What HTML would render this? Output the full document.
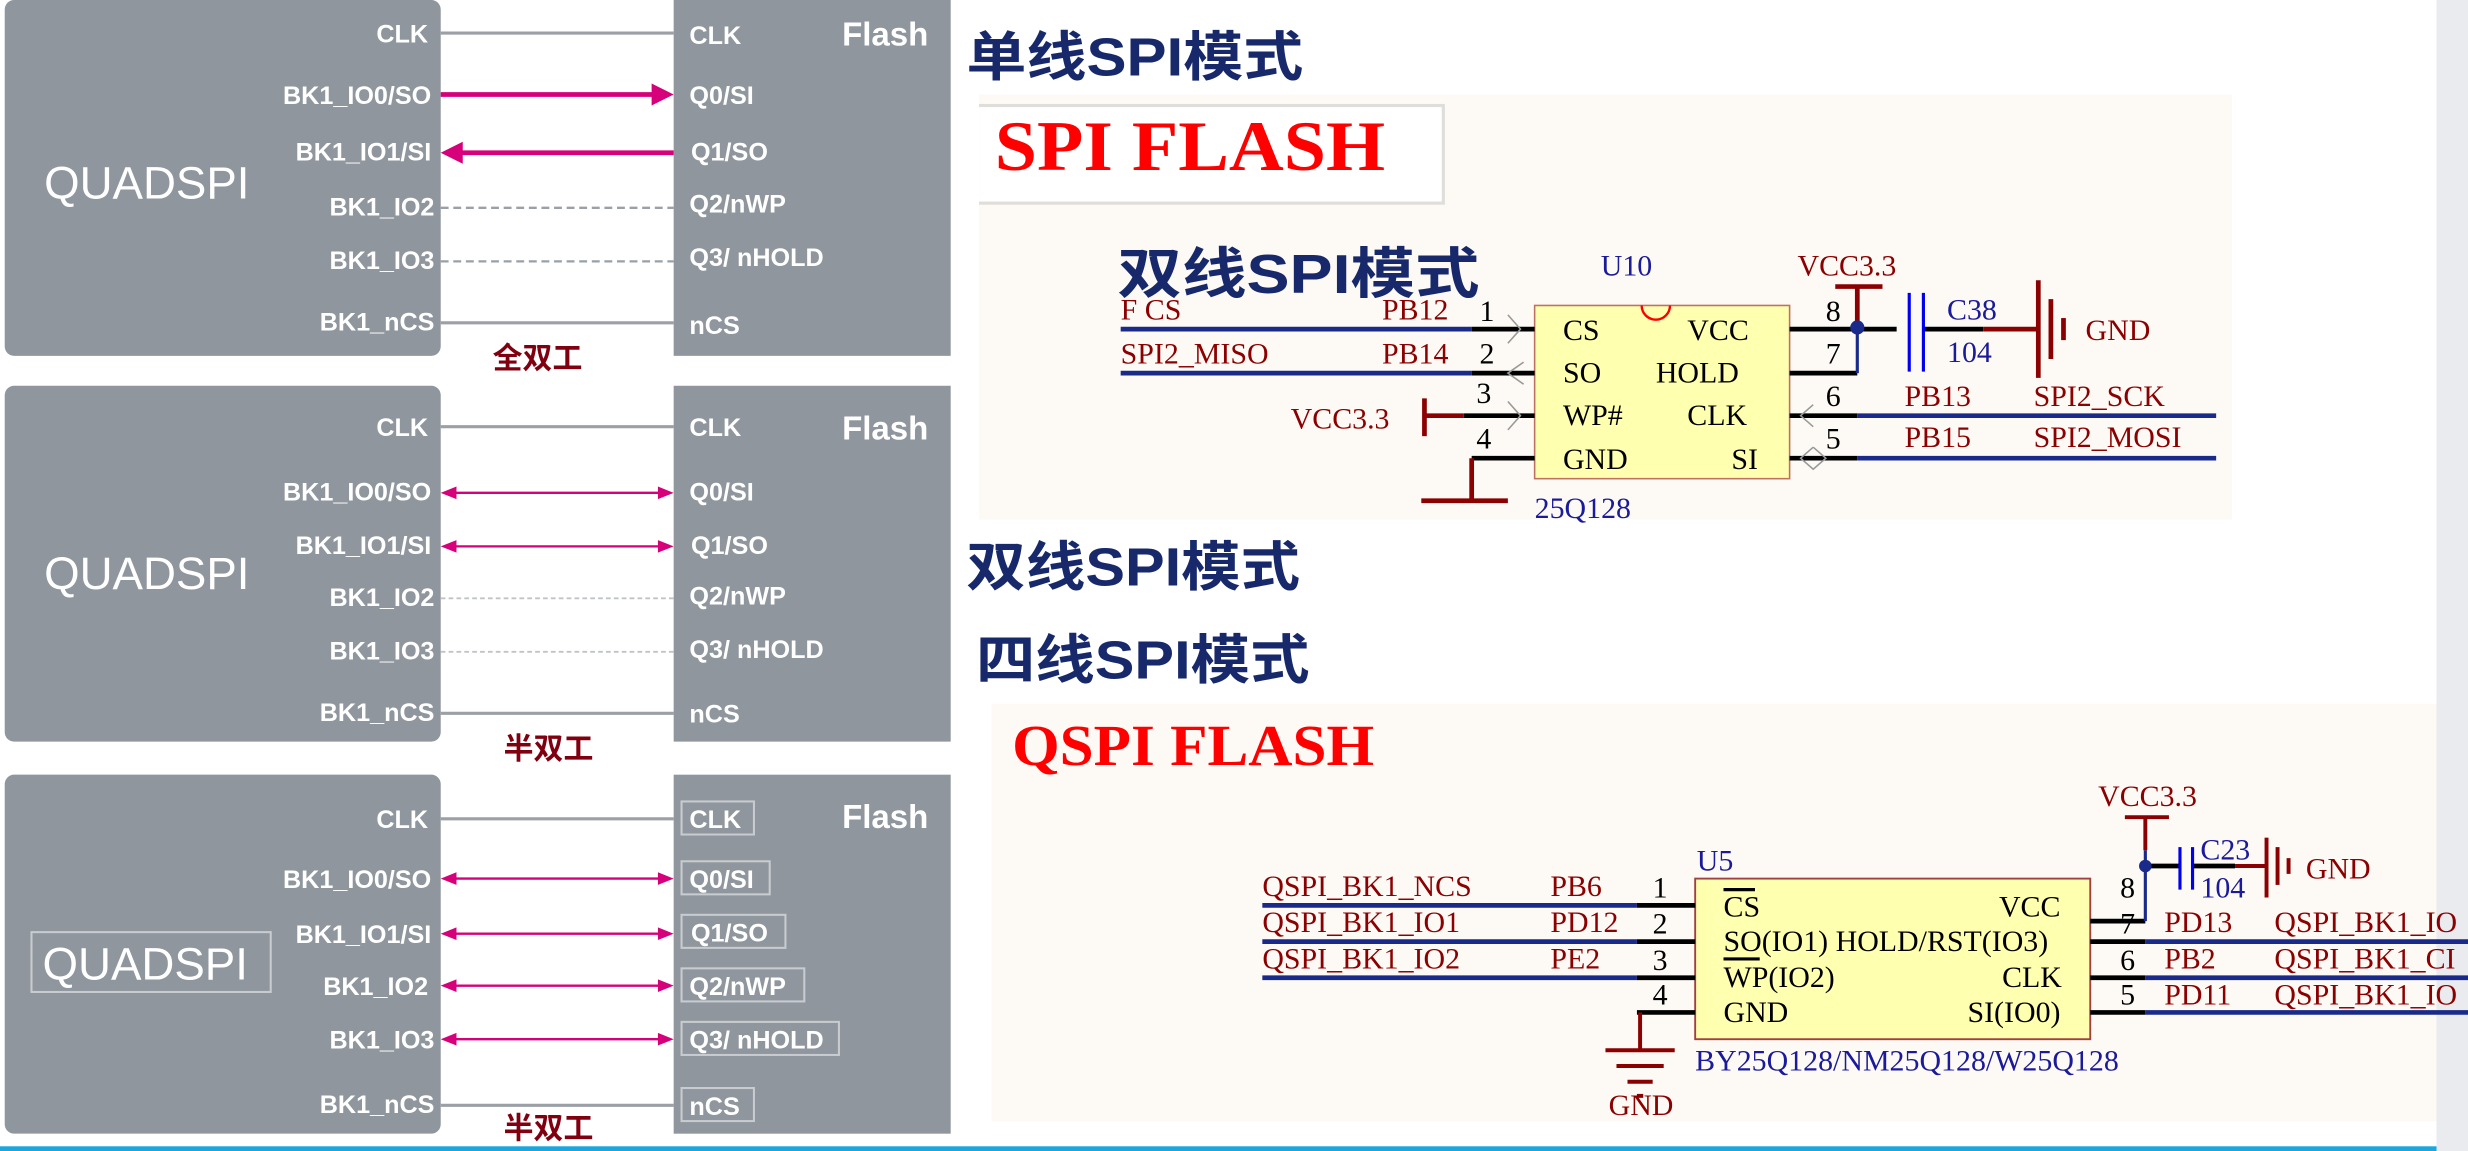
<!DOCTYPE html>
<html><head><meta charset="utf-8"><style>
html,body{margin:0;padding:0;background:#fff;}
svg{display:block;}
.w{font-family:"Liberation Sans","Noto Sans CJK SC",sans-serif;fill:#fff;font-weight:bold;font-size:16px;}
.s{font-family:"Liberation Serif",serif;font-size:19px;}
.r{fill:#8b0000;} .b{fill:#1a1a9a;} .k{fill:#000;}
.t{font-family:"Liberation Sans","Noto Sans CJK SC",sans-serif;font-weight:bold;fill:#17296b;font-size:34px;}
.h{font-family:"Liberation Sans","Noto Sans CJK SC",sans-serif;font-weight:bold;fill:#800010;font-size:19px;}
</style></head><body>
<svg width="2468" height="1151" viewBox="0 0 1568 731" preserveAspectRatio="none" xmlns="http://www.w3.org/2000/svg">
<rect x="1548" y="0" width="20" height="731" fill="#e9ebee"/>
<rect x="0" y="728" width="1548" height="3" fill="#1aa7e0"/>

<!-- Panel 1 -->
<rect x="3" y="0" width="277" height="226" rx="6" fill="#8f969d"/>
<rect x="428" y="0" width="176" height="226" fill="#8f969d"/>
<g class="w" text-anchor="end">
<text x="272" y="27">CLK</text><text x="274" y="66">BK1_IO0/SO</text><text x="274" y="102">BK1_IO1/SI</text>
<text x="276" y="137">BK1_IO2</text><text x="276" y="171">BK1_IO3</text><text x="276" y="210">BK1_nCS</text></g>
<g class="w"><text x="438" y="28">CLK</text><text x="438" y="66">Q0/SI</text><text x="439" y="102">Q1/SO</text>
<text x="438" y="135">Q2/nWP</text><text x="438" y="169">Q3/ nHOLD</text><text x="438" y="212">nCS</text>
<text x="535" y="29" font-size="21">Flash</text>
<text x="28" y="126" font-size="29" font-weight="normal">QUADSPI</text></g>
<line x1="280" y1="21" x2="428" y2="21" stroke="#9aa0a6" stroke-width="2"/>
<line x1="280" y1="205" x2="428" y2="205" stroke="#9aa0a6" stroke-width="2"/>
<line x1="280" y1="60" x2="416" y2="60" stroke="#d6007a" stroke-width="3"/>
<polygon points="428,60 414,53 414,67" fill="#d6007a"/>
<line x1="292" y1="97" x2="428" y2="97" stroke="#d6007a" stroke-width="3"/>
<polygon points="280,97 294,90 294,104" fill="#d6007a"/>
<line x1="280" y1="132" x2="428" y2="132" stroke="#9aa0a6" stroke-width="1.5" stroke-dasharray="5,3"/>
<line x1="280" y1="166" x2="428" y2="166" stroke="#9aa0a6" stroke-width="1.5" stroke-dasharray="5,3"/>
<text class="h" x="313" y="234">全双工</text>

<!-- Panel 2 -->
<rect x="3" y="245" width="277" height="226" rx="6" fill="#8f969d"/>
<rect x="428" y="245" width="176" height="226" fill="#8f969d"/>
<g class="w" text-anchor="end">
<text x="272" y="277">CLK</text><text x="274" y="318">BK1_IO0/SO</text><text x="274" y="352">BK1_IO1/SI</text>
<text x="276" y="385">BK1_IO2</text><text x="276" y="419">BK1_IO3</text><text x="276" y="458">BK1_nCS</text></g>
<g class="w"><text x="438" y="277">CLK</text><text x="438" y="318">Q0/SI</text><text x="439" y="352">Q1/SO</text>
<text x="438" y="384">Q2/nWP</text><text x="438" y="418">Q3/ nHOLD</text><text x="438" y="459">nCS</text>
<text x="535" y="279" font-size="21">Flash</text>
<text x="28" y="374" font-size="29" font-weight="normal">QUADSPI</text></g>
<line x1="280" y1="271" x2="428" y2="271" stroke="#9aa0a6" stroke-width="2"/>
<line x1="280" y1="453" x2="428" y2="453" stroke="#9aa0a6" stroke-width="2"/>
<g stroke="#d6007a" stroke-width="1.5"><line x1="285" y1="313" x2="423" y2="313"/><line x1="285" y1="347" x2="423" y2="347"/></g>
<g fill="#d6007a"><polygon points="280,313 290,309 290,317"/><polygon points="428,313 418,309 418,317"/>
<polygon points="280,347 290,343 290,351"/><polygon points="428,347 418,343 418,351"/></g>
<line x1="280" y1="380" x2="428" y2="380" stroke="#c0c4c8" stroke-width="1.2" stroke-dasharray="3,2"/>
<line x1="280" y1="414" x2="428" y2="414" stroke="#c0c4c8" stroke-width="1.2" stroke-dasharray="3,2"/>
<text class="h" x="320" y="482">半双工</text>

<!-- Panel 3 -->
<rect x="3" y="492" width="277" height="228" rx="6" fill="#8f969d"/>
<rect x="428" y="492" width="176" height="228" fill="#8f969d"/>
<g class="w" text-anchor="end">
<text x="272" y="526">CLK</text><text x="274" y="564">BK1_IO0/SO</text><text x="274" y="599">BK1_IO1/SI</text>
<text x="272" y="632">BK1_IO2</text><text x="276" y="666">BK1_IO3</text><text x="276" y="707">BK1_nCS</text></g>
<g fill="none" stroke="#c8ccd0" stroke-width="1.3">
<rect x="433" y="509" width="46" height="21"/><rect x="433" y="547" width="56" height="21"/><rect x="433" y="581" width="66" height="21"/>
<rect x="433" y="615" width="78" height="21"/><rect x="433" y="649" width="100" height="21"/><rect x="433" y="691" width="46" height="21"/>
<rect x="20" y="592" width="152" height="38"/></g>
<g class="w"><text x="438" y="526">CLK</text><text x="438" y="564">Q0/SI</text><text x="439" y="598">Q1/SO</text>
<text x="438" y="632">Q2/nWP</text><text x="438" y="666">Q3/ nHOLD</text><text x="438" y="708">nCS</text>
<text x="535" y="526" font-size="21">Flash</text>
<text x="27" y="622" font-size="29" font-weight="normal">QUADSPI</text></g>
<line x1="280" y1="520" x2="428" y2="520" stroke="#9aa0a6" stroke-width="2"/>
<line x1="280" y1="702" x2="428" y2="702" stroke="#9aa0a6" stroke-width="2"/>
<g stroke="#d6007a" stroke-width="1.5"><line x1="285" y1="558" x2="423" y2="558"/><line x1="285" y1="593" x2="423" y2="593"/>
<line x1="285" y1="626" x2="423" y2="626"/><line x1="285" y1="660" x2="423" y2="660"/></g>
<g fill="#d6007a"><polygon points="280,558 290,554 290,562"/><polygon points="428,558 418,554 418,562"/>
<polygon points="280,593 290,589 290,597"/><polygon points="428,593 418,589 418,597"/>
<polygon points="280,626 290,622 290,630"/><polygon points="428,626 418,622 418,630"/>
<polygon points="280,660 290,656 290,664"/><polygon points="428,660 418,656 418,664"/></g>
<text class="h" x="320" y="723">半双工</text>

<!-- Titles -->
<text class="t" x="614" y="48" textLength="214" lengthAdjust="spacingAndGlyphs">单线SPI模式</text>
<text class="t" x="614" y="372" textLength="212" lengthAdjust="spacingAndGlyphs">双线SPI模式</text>
<text class="t" x="620" y="431" textLength="212" lengthAdjust="spacingAndGlyphs">四线SPI模式</text>

<!-- Schematic 1 -->
<rect x="622" y="60" width="796" height="270" fill="#fdfaf5"/>
<rect x="622" y="66" width="296" height="64" fill="#aaa" opacity="0.35"/>
<rect x="622" y="68" width="294" height="60" fill="#fff"/>
<text x="632" y="108" font-family="Liberation Serif,serif" font-weight="bold" font-size="45" fill="#ff0000" textLength="248" lengthAdjust="spacingAndGlyphs">SPI FLASH</text>
<rect x="975" y="194" width="162" height="110" fill="#ffffb0" stroke="#c07060" stroke-width="1"/>
<path d="M1043,194 a9,9 0 0 0 18,0" fill="none" stroke="#f00" stroke-width="1.5"/>
<g stroke="#000" stroke-width="3"><line x1="935" y1="209" x2="975" y2="209"/><line x1="935" y1="237" x2="975" y2="237"/>
<line x1="930" y1="264" x2="975" y2="264"/><line x1="935" y1="291" x2="975" y2="291"/>
<line x1="1137" y1="209" x2="1205" y2="209"/><line x1="1137" y1="237" x2="1180" y2="237"/>
<line x1="1137" y1="264" x2="1180" y2="264"/><line x1="1137" y1="291" x2="1180" y2="291"/><line x1="1222" y1="209" x2="1260" y2="209"/></g>
<g stroke="#1a2a8a" stroke-width="3"><line x1="712" y1="209" x2="935" y2="209"/><line x1="712" y1="237" x2="935" y2="237"/>
<line x1="1180" y1="264" x2="1408" y2="264"/><line x1="1180" y1="291" x2="1408" y2="291"/></g>
<g stroke="#8b0000" stroke-width="3" fill="none"><line x1="905" y1="253" x2="905" y2="277"/><line x1="905" y1="264" x2="930" y2="264"/>
<polyline points="935,291 935,318"/><line x1="903" y1="318" x2="958" y2="318"/>
<line x1="1166" y1="182" x2="1196" y2="182"/><line x1="1180" y1="182" x2="1180" y2="208"/>
<line x1="1260" y1="209" x2="1295" y2="209"/><line x1="1295" y1="178" x2="1295" y2="240"/><line x1="1303" y1="190" x2="1303" y2="228"/><line x1="1311" y1="202" x2="1311" y2="216"/></g>
<line x1="1180" y1="209" x2="1180" y2="237" stroke="#1a2a8a" stroke-width="2"/>
<circle cx="1180" cy="208" r="4.5" fill="#1a2a8a"/>
<g stroke="#0000ee" stroke-width="2"><line x1="1213" y1="186" x2="1213" y2="236"/><line x1="1222" y1="186" x2="1222" y2="236"/></g>
<g fill="none" stroke="#999" stroke-width="1"><polyline points="958,200 966,209 958,218"/><polyline points="968,230 958,237 968,244"/>
<polyline points="958,255 966,264 958,273"/><polyline points="1152,257 1144,264 1152,271"/><polyline points="1152,284 1144,291 1152,298 1160,291 1152,284"/></g>
<g class="s r"><text x="712" y="203">F CS</text><text x="878" y="203">PB12</text><text x="712" y="231">SPI2_MISO</text><text x="878" y="231">PB14</text>
<text x="820" y="272">VCC3.3</text><text x="1142" y="175">VCC3.3</text><text x="1325" y="216">GND</text>
<text x="1210" y="258">PB13</text><text x="1292" y="258">SPI2_SCK</text><text x="1210" y="284">PB15</text><text x="1292" y="284">SPI2_MOSI</text></g>
<g class="s k"><text x="940" y="204">1</text><text x="940" y="231">2</text><text x="938" y="256">3</text><text x="938" y="285">4</text>
<text x="1160" y="204">8</text><text x="1160" y="231">7</text><text x="1160" y="258">6</text><text x="1160" y="285">5</text>
<text x="993" y="216">CS</text><text x="1072" y="216">VCC</text><text x="993" y="243">SO</text><text x="1052" y="243">HOLD</text>
<text x="993" y="270">WP#</text><text x="1072" y="270">CLK</text><text x="993" y="298">GND</text><text x="1100" y="298">SI</text></g>
<g class="s b"><text x="1017" y="175">U10</text><text x="1237" y="203">C38</text><text x="1237" y="230">104</text><text x="975" y="329">25Q128</text></g>
<text x="710" y="186" font-family="Liberation Sans,Noto Sans CJK SC,sans-serif" font-weight="bold" font-size="35" fill="#17296b" textLength="230" lengthAdjust="spacingAndGlyphs">双线SPI模式</text>

<!-- Schematic 2 -->
<rect x="630" y="447" width="918" height="265" fill="#fdfaf5"/>
<text x="643" y="486" font-family="Liberation Serif,serif" font-weight="bold" font-size="37" fill="#ff0000" textLength="230" lengthAdjust="spacingAndGlyphs">QSPI FLASH</text>
<rect x="1077" y="558" width="251" height="102" fill="#ffffb0" stroke="#a04040" stroke-width="1.2"/>
<g stroke="#000" stroke-width="3"><line x1="1040" y1="575" x2="1077" y2="575"/><line x1="1040" y1="598" x2="1077" y2="598"/>
<line x1="1040" y1="621" x2="1077" y2="621"/><line x1="1040" y1="643" x2="1077" y2="643"/>
<line x1="1328" y1="585" x2="1363" y2="585"/><line x1="1328" y1="598" x2="1363" y2="598"/><line x1="1328" y1="621" x2="1363" y2="621"/><line x1="1328" y1="643" x2="1363" y2="643"/>
<line x1="1363" y1="550" x2="1385" y2="550"/><line x1="1393" y1="550" x2="1420" y2="550"/></g>
<g stroke="#1a2a8a" stroke-width="3"><line x1="802" y1="575" x2="1040" y2="575"/><line x1="802" y1="598" x2="1040" y2="598"/><line x1="802" y1="621" x2="1040" y2="621"/>
<line x1="1363" y1="598" x2="1568" y2="598"/><line x1="1363" y1="621" x2="1568" y2="621"/><line x1="1363" y1="643" x2="1568" y2="643"/></g>
<line x1="1363" y1="540" x2="1363" y2="585" stroke="#1a2a8a" stroke-width="2"/>
<circle cx="1363" cy="550" r="4" fill="#1a2a8a"/>
<g stroke="#0000ee" stroke-width="2"><line x1="1385" y1="538" x2="1385" y2="565"/><line x1="1393" y1="538" x2="1393" y2="565"/></g>
<g stroke="#8b0000" stroke-width="2.5" fill="none"><line x1="1350" y1="519" x2="1378" y2="519"/><line x1="1363" y1="519" x2="1363" y2="540"/>
<line x1="1420" y1="550" x2="1440" y2="550"/><line x1="1440" y1="532" x2="1440" y2="570"/><line x1="1447" y1="538" x2="1447" y2="562"/><line x1="1454" y1="545" x2="1454" y2="555"/>
<line x1="1042" y1="643" x2="1042" y2="667"/><line x1="1020" y1="667" x2="1064" y2="667"/><line x1="1027" y1="677" x2="1057" y2="677"/><line x1="1034" y1="687" x2="1050" y2="687"/><line x1="1040" y1="696" x2="1044" y2="696"/></g>
<g class="s r" font-size="17"><text x="802" y="569">QSPI_BK1_NCS</text><text x="985" y="569">PB6</text>
<text x="802" y="592">QSPI_BK1_IO1</text><text x="985" y="592">PD12</text>
<text x="802" y="615">QSPI_BK1_IO2</text><text x="985" y="615">PE2</text>
<text x="1375" y="592">PD13</text><text x="1445" y="592">QSPI_BK1_IO</text>
<text x="1375" y="615">PB2</text><text x="1445" y="615">QSPI_BK1_CI</text>
<text x="1375" y="638">PD11</text><text x="1445" y="638">QSPI_BK1_IO</text>
<text x="1333" y="512">VCC3.3</text><text x="1465" y="558">GND</text><text x="1022" y="708">GND</text></g>
<g class="s k" font-size="17"><text x="1050" y="570">1</text><text x="1050" y="593">2</text><text x="1050" y="616">3</text><text x="1050" y="638">4</text>
<text x="1347" y="570">8</text><text x="1347" y="593">7</text><text x="1347" y="616">6</text><text x="1347" y="638">5</text>
<text x="1095" y="582">CS</text><text x="1270" y="582">VCC</text><text x="1095" y="604">SO(IO1) HOLD/RST(IO3)</text>
<text x="1095" y="627">WP(IO2)</text><text x="1272" y="627">CLK</text><text x="1095" y="649">GND</text><text x="1250" y="649">SI(IO0)</text></g>
<g stroke="#000" stroke-width="2"><line x1="1095" y1="565" x2="1115" y2="565"/><line x1="1095" y1="609" x2="1118" y2="609"/></g>
<g class="s b" font-size="17"><text x="1078" y="553">U5</text><text x="1398" y="546">C23</text><text x="1398" y="570">104</text><text x="1077" y="680">BY25Q128/NM25Q128/W25Q128</text></g>
</svg>
</body></html>
